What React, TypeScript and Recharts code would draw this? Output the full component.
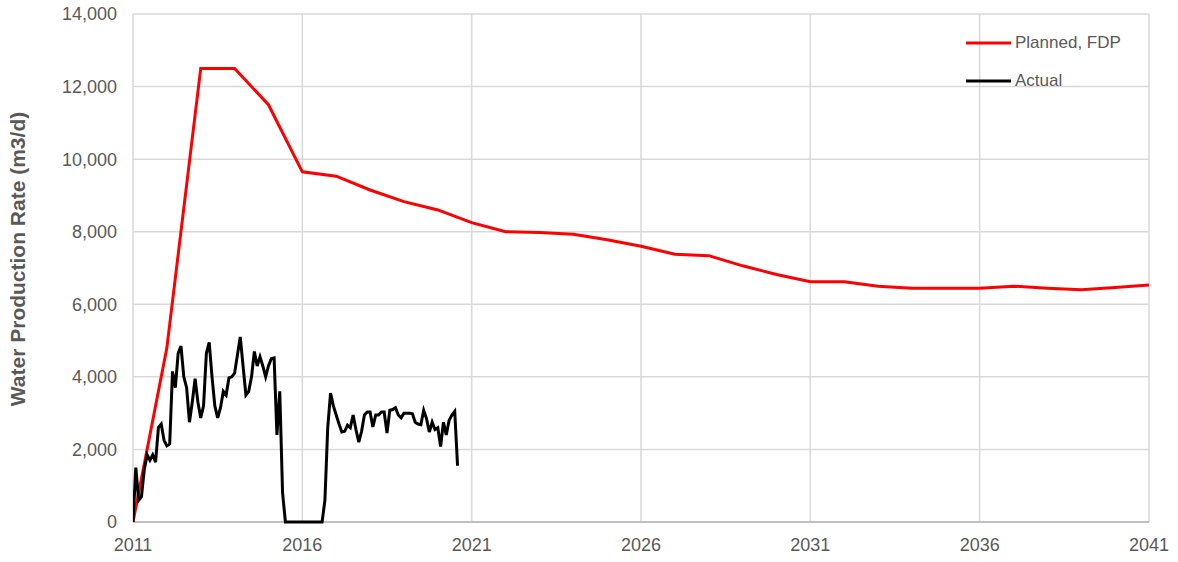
import { LineChart, Line, XAxis, YAxis, CartesianGrid } from "recharts";

document.body.style.margin = "0";

const START_YEAR = 2011;

const xTicks = [2011, 2016, 2021, 2026, 2031, 2036, 2041];
const yTicks = [0, 2000, 4000, 6000, 8000, 10000, 12000, 14000];

// planned (FDP), one value per year
const plannedYears = [
  2011, 2012, 2013, 2014, 2015, 2016, 2017, 2018, 2019, 2020, 2021, 2022, 2023, 2024, 2025, 2026,
  2027, 2028, 2029, 2030, 2031, 2032, 2033, 2034, 2035, 2036, 2037, 2038, 2039, 2040, 2041,
];
const plannedRate = [
  0, 4800, 12500, 12500, 11500, 9650, 9530, 9150, 8830, 8600, 8250, 8000, 7980, 7930, 7780, 7600,
  7380, 7340, 7060, 6820, 6620, 6620, 6500, 6440, 6440, 6440, 6500, 6440, 6400, 6460, 6530,
];

// actual, monthly from Jan 2011
const actualRate = [
  0, 1500, 600, 700, 1450, 1850, 1700, 1850, 1650, 2600, 2700, 2250,
  2100, 2150, 4150, 3700, 4650, 4850, 4000, 3700, 2750, 3300, 3950, 3300,
  2870, 3200, 4650, 4950, 4000, 3200, 2870, 3150, 3600, 3500, 3970, 4000,
  4100, 4600, 5100, 4300, 3500, 3600, 4000, 4700, 4300, 4550, 4300, 4000,
  4300, 4500, 4520, 2400, 3600, 800, 0, 0, 0, 0, 0, 0,
  0, 0, 0, 0, 0, 0, 0, 0, 600, 2600, 3550, 3200,
  2950, 2700, 2480, 2500, 2670, 2600, 2950, 2550, 2200, 2500, 2950, 3030,
  3030, 2620, 2950, 2950, 3030, 3030, 2450, 3080, 3100, 3150, 2950, 2870,
  3000, 3000, 3000, 2980, 2750, 2700, 2680, 3080, 2850, 2480, 2750, 2550,
  2600, 2080, 2750, 2400, 2800, 2950, 3050, 1550,
];

const plannedData = plannedYears.map((x, i) => ({ x, y: plannedRate[i] }));
const actualData = actualRate.map((y, i) => ({ x: START_YEAR + i / 12, y }));

const legendItems = [
  { name: "Planned, FDP", color: "#ff0000" },
  { name: "Actual", color: "#000000" },
];

const textColor = "#595959";
const font = "'Liberation Sans', Arial, sans-serif";

function ChartLegend() {
  return (
    <div
      style={{
        position: "absolute",
        top: 24,
        left: 966,
        fontFamily: font,
        fontSize: 17,
        color: textColor,
      }}
    >
      {legendItems.map((it) => (
        <div key={it.name} style={{ display: "flex", alignItems: "center", height: 38 }}>
          <svg width={49} height={6}>
            <line x1={0} y1={3} x2={45} y2={3} stroke={it.color} strokeWidth={3} />
          </svg>
          <span>{it.name}</span>
        </div>
      ))}
    </div>
  );
}

export default function App() {
  return (
    <div style={{ position: "relative", width: 1178, height: 562 }}>
      <LineChart width={1178} height={562} margin={{ top: 14, right: 29, bottom: 0, left: 0 }}>
        <CartesianGrid stroke="#d9d9d9" strokeWidth={1.5} />
        {/* darker baseline, kept in the grid layer so the zero segment of Actual stays on top */}
        <CartesianGrid vertical={false} horizontalValues={[0]} stroke="#bfbfbf" strokeWidth={2} />
        <XAxis
          type="number"
          dataKey="x"
          domain={[2011, 2041]}
          ticks={xTicks}
          height={40}
          tickLine={false}
          tickMargin={10}
          axisLine={false}
          tick={{ fontSize: 18, fill: textColor, fontFamily: font }}
          allowDataOverflow
        />
        <YAxis
          type="number"
          dataKey="y"
          domain={[0, 14000]}
          ticks={yTicks}
          width={133}
          tickLine={false}
          axisLine={false}
          tickMargin={10}
          tickFormatter={(v: number) => v.toLocaleString("en-US")}
          tick={{ fontSize: 18, fill: textColor, fontFamily: font }}
          label={{
            value: "Water Production Rate (m3/d)",
            angle: -90,
            position: "insideLeft",
            offset: 18,
            dy: -9,
            style: { textAnchor: "middle", fontSize: 21, fontWeight: "bold", fill: textColor, fontFamily: font },
          }}
        />
        <Line
          data={plannedData}
          dataKey="y"
          name="Planned, FDP"
          stroke="#ff0000"
          strokeWidth={3}
          dot={false}
          type="linear"
          isAnimationActive={false}
        />
        <Line
          data={actualData}
          dataKey="y"
          name="Actual"
          stroke="#000000"
          strokeWidth={3}
          dot={false}
          type="linear"
          isAnimationActive={false}
        />
      </LineChart>
      <ChartLegend />
    </div>
  );
}
